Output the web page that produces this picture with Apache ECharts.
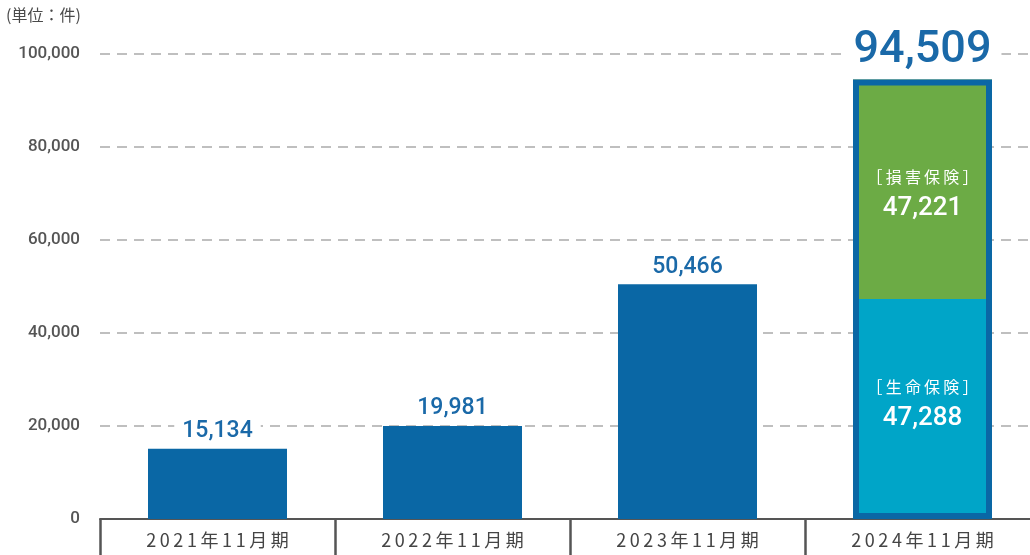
<!DOCTYPE html>
<html><head><meta charset="utf-8">
<script src="https://cdn.jsdelivr.net/npm/echarts@6/dist/echarts.min.js"></script>
<style>html,body{margin:0;padding:0;background:#fff}#c{width:1030px;height:555px}</style>
</head><body><div id="c"></div>
<script>
const categories = ['2021年11月期','2022年11月期','2023年11月期','2024年11月期'];
const totalValues = [15134, 19981, 50466, '-'];
const lifeValues = ['-', '-', '-', 47288];
const damageValues = ['-', '-', '-', 47221];
const outlineValues = ['-', '-', '-', 94509];
const lifeName = '［生命保険］';
const damageName = '［損害保険］';
const unitText = '(単位：件)';

const numFont = 'Roboto, "Noto Sans", sans-serif';
const cjkFont = '"Noto Sans CJK JP", sans-serif';
const fmt = v => Number(v).toLocaleString('en-US');
const spaced = (s, sp) => s.split('').join(sp);
const BW = 139;

const chart = echarts.init(document.getElementById('c'));
chart.setOption({
  animation: false,
  graphic: [{type:'text', left: 6, top: 7, style:{text: unitText, fontSize: 16, fill:'#4a4a4a', fontFamily: cjkFont}}],
  grid: {left: 100, top: 54, right: -10, bottom: 36, containLabel: false, outerBoundsMode: 'none'},
  xAxis: {
    type: 'category', data: categories,
    axisLine: {lineStyle: {color: '#555', width: 2}},
    axisTick: {show: true, length: 40, lineStyle: {color: '#555', width: 2.5}},
    axisLabel: {color: '#444', fontSize: 18, fontFamily: cjkFont, margin: 12, formatter: v => spaced(v, '\u2009')}
  },
  yAxis: {
    type: 'value', min: 0, max: 100000, interval: 20000,
    axisLine: {show: false}, axisTick: {show: false},
    axisLabel: {color: '#555', fontSize: 17, fontWeight: 500, fontFamily: numFont, margin: 20, formatter: v => fmt(v)},
    splitLine: {lineStyle: {color: '#aaa', width: 1.5, type: [10, 7]}}
  },
  series: [
    {type: 'bar', stack: 'a', data: totalValues, barWidth: BW, barGap: '-100%',
     itemStyle: {color: '#0a67a5'},
     label: {show: true, position: 'top', distance: 4, color: '#1a69a8', fontSize: 23, fontWeight: 500, fontFamily: numFont,
             backgroundColor: '#fff', padding: [2, 8], formatter: p => fmt(p.value)}},
    {type: 'bar', stack: 'a', data: lifeValues, barWidth: BW, barGap: '-100%',
     itemStyle: {color: '#00a5c8'},
     label: {show: true, position: 'inside', offset: [0, -6], color: '#fff',
             formatter: p => '{n|' + spaced(lifeName, '\u2009') + '}\n{v|' + fmt(p.value) + '}',
             rich: {n: {fontSize: 16, fontFamily: cjkFont, color: '#fff', lineHeight: 30},
                    v: {fontSize: 26, fontWeight: 500, fontFamily: numFont, color: '#fff', lineHeight: 32}}}},
    {type: 'bar', stack: 'a', data: damageValues, barWidth: BW, barGap: '-100%',
     itemStyle: {color: '#6cab45'},
     label: {show: true, position: 'inside', offset: [0, 4], color: '#fff',
             formatter: p => '{n|' + spaced(damageName, '\u2009') + '}\n{v|' + fmt(p.value) + '}',
             rich: {n: {fontSize: 16, fontFamily: cjkFont, color: '#fff', lineHeight: 30},
                    v: {fontSize: 26, fontWeight: 500, fontFamily: numFont, color: '#fff', lineHeight: 32}}}},
    {type: 'bar', data: outlineValues, barWidth: BW, barGap: '-100%', z: 5,
     itemStyle: {color: 'rgba(0,0,0,0)', borderColor: '#0a67a5', borderWidth: 6},
     label: {show: true, position: 'top', distance: 6, color: '#1a69a8', fontSize: 45, fontWeight: 500, fontFamily: numFont,
             backgroundColor: '#fff', padding: [0, 10], formatter: p => fmt(p.value)}}
  ]
});
</script></body></html>
